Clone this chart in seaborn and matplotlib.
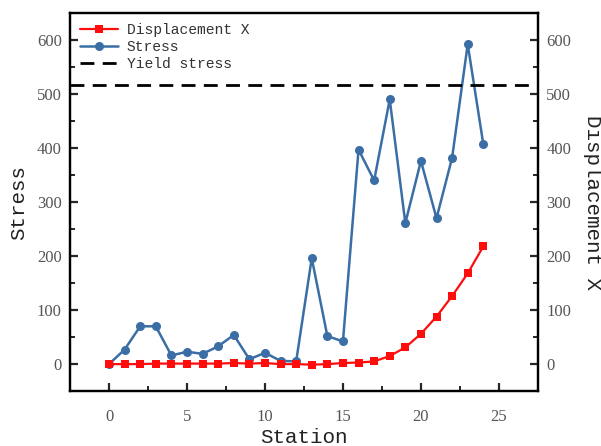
import matplotlib
matplotlib.use("Agg")
import matplotlib.pyplot as plt
import seaborn as sns
import pandas as pd
from matplotlib.ticker import MultipleLocator

station = list(range(25))
stress = [0, 27, 70, 70, 16, 23, 19, 33, 54, 9, 21, 6, 5, 196, 52, 42,
          397, 340, 490, 261, 376, 270, 382, 592, 407]
displacement = [0, 0, 0, 1, 1, 1, 1, 1, 2, 1, 2, 0, 0, -1, 0, 2,
                3, 5, 15, 31, 56, 88, 126, 168, 218]
yield_stress = 517

df = pd.DataFrame({"Station": station, "Stress": stress, "Displacement X": displacement})

sns.set_style("ticks")
plt.rcParams["font.family"] = ["Liberation Serif", "DejaVu Serif"]

fig = plt.figure(figsize=(6.01, 4.46), dpi=100)
ax = fig.add_axes([0.1165, 0.123, 0.7785, 0.848])
ax2 = ax.twinx()

red = "#ff0d0d"
blue = "#3a6ea5"

sns.lineplot(data=df, x="Station", y="Displacement X", ax=ax2, color=red,
             marker="s", markersize=5.5, markeredgewidth=0, linewidth=1.6,
             label="Displacement X", legend=False)
sns.lineplot(data=df, x="Station", y="Stress", ax=ax, color=blue,
             marker="o", markersize=6.5, markeredgewidth=0, linewidth=1.8,
             label="Stress", legend=False)
ax.axhline(yield_stress, color="black", linewidth=2, dashes=(5, 3), label="Yield stress")

for a in (ax, ax2):
    a.set_ylim(-50, 650)
    a.set_xlim(-2.5, 27.5)
    a.yaxis.set_major_locator(MultipleLocator(100))
    a.yaxis.set_minor_locator(MultipleLocator(50))
    for s in a.spines.values():
        s.set_linewidth(1.6)
        s.set_color("black")
ax.xaxis.set_major_locator(MultipleLocator(5))
ax.xaxis.set_minor_locator(MultipleLocator(2.5))

ax.tick_params(axis="both", which="major", direction="in", length=6, width=1.6,
               labelsize=12, labelcolor="#555555")
ax.tick_params(axis="y", which="major", pad=6)
ax.tick_params(axis="x", which="major", pad=13)
ax.tick_params(axis="both", which="minor", direction="in", length=3.5, width=1.4)
ax2.tick_params(axis="y", which="major", direction="in", length=6, width=1.6,
                labelsize=12, labelcolor="#555555", pad=6)
ax2.tick_params(axis="y", which="minor", direction="in", length=3.5, width=1.4)

lab_font = {"family": ["Liberation Mono", "DejaVu Sans Mono"], "size": 15, "color": "#222222"}
ax.set_xlabel("Station", fontdict=lab_font, labelpad=2)
ax.set_ylabel("Stress", fontdict=lab_font, labelpad=6)
ax2.set_ylabel("Displacement X", fontdict=lab_font, rotation=270, labelpad=22)

h1, l1 = ax2.get_legend_handles_labels()
h2, l2 = ax.get_legend_handles_labels()
leg = ax.legend(h1 + h2, l1 + l2, loc="upper left", frameon=False,
                prop={"family": ["Liberation Mono", "DejaVu Sans Mono"], "size": 10.5},
                handlelength=2.6, labelspacing=0.2, handletextpad=0.6,
                borderaxespad=0.3, bbox_to_anchor=(0.0, 1.0))
for t in leg.get_texts():
    t.set_color("#333333")

fig.savefig("out.png", dpi=100)
